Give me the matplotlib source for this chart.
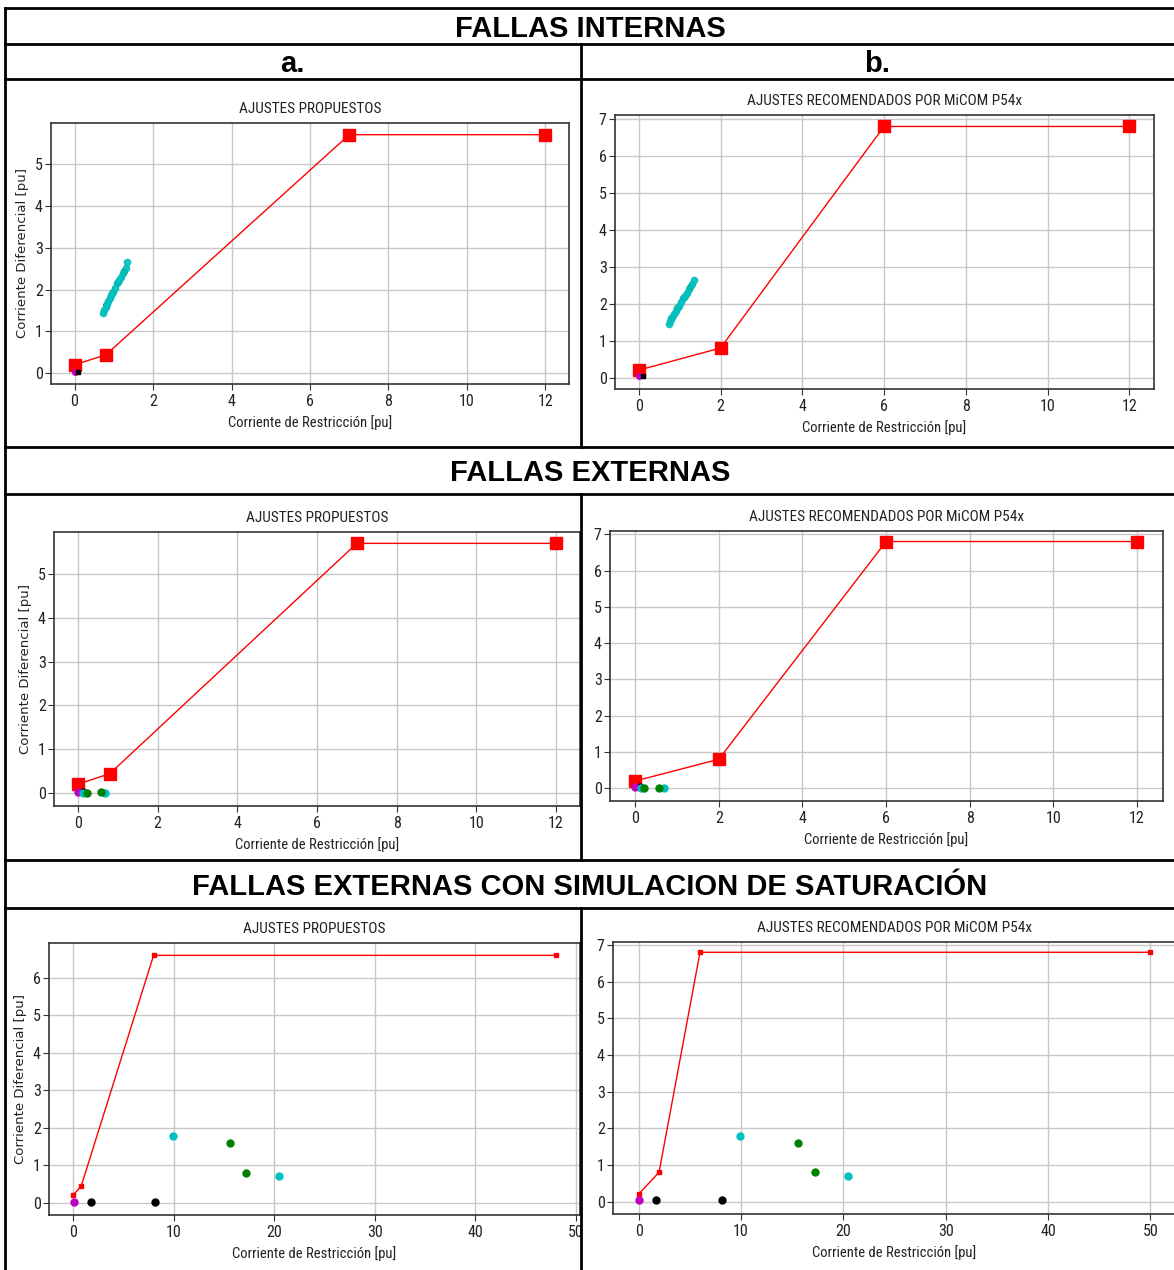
import matplotlib
matplotlib.use("Agg")
import matplotlib.pyplot as plt
from matplotlib.lines import Line2D

# ---- data ----
# relay characteristic (Irestr, Idiff)
prop_int_x = [0, 0.8, 7, 12]
prop_int_y = [0.2, 0.44, 5.71, 5.71]
micom_x = [0, 2, 6, 12]
micom_y = [0.2, 0.8, 6.8, 6.8]
prop_sat_x = [0, 0.8, 8, 48]
prop_sat_y = [0.2, 0.44, 6.6, 6.6]
micom_sat_x = [0, 2, 6, 50]
micom_sat_y = [0.2, 0.8, 6.8, 6.8]

# internal faults: operating points
int_cyan_x = [0.73, 0.76, 0.79, 0.82, 0.86, 0.90, 0.94, 0.98, 1.03, 1.08, 1.13, 1.18, 1.24, 1.30, 1.34]
int_cyan_y = [1.45, 1.52, 1.58, 1.65, 1.72, 1.80, 1.88, 1.95, 2.05, 2.15, 2.22, 2.30, 2.40, 2.52, 2.65]
int_green_x = [0.80, 0.95, 1.10, 1.25]
int_green_y = [1.62, 1.92, 2.18, 2.45]
int_mag = (0.0, 0.03)
int_black = (0.1, 0.03)

# external faults
ext_mag = (0.0, 0.03)
ext_black = (0.12, 0.03)
ext_cyan_x = [0.14, 0.68]
ext_cyan_y = [0.0, 0.0]
ext_green_x = [0.22, 0.57]
ext_green_y = [0.0, 0.01]

# external faults with CT saturation
sat_mag = (0.05, 0.03)
sat_black_x = [1.73, 8.1]
sat_black_y = [0.03, 0.03]
sat_cyan_x = [9.9, 20.45]
sat_cyan_y = [1.78, 0.70]
sat_green_x = [15.6, 17.2]
sat_green_y = [1.60, 0.80]

W, H = 1174, 1270
fig = plt.figure(figsize=(W / 100, H / 100), dpi=100)
fig.patch.set_facecolor("white")

chart_font = ["Roboto Condensed", "Roboto", "DejaVu Sans"]


def px_axes(l, t, r, b):
    return fig.add_axes([l / W, 1 - b / H, (r - l) / W, (b - t) / H])


def style(ax, title, xlim, ylim, xticks, yticks, ylabel=True):
    ax.set_xlim(*xlim)
    ax.set_ylim(*ylim)
    ax.set_xticks(xticks)
    ax.set_yticks(yticks)
    ax.grid(True, color="#c8c8c8", lw=1)
    ax.set_axisbelow(True)
    for s in ax.spines.values():
        s.set_color("#333333")
        s.set_linewidth(1.2)
    ax.tick_params(labelsize=11.5, color="#333333", length=4)
    ax.tick_params(axis="y", pad=2)
    for lab in ax.get_xticklabels() + ax.get_yticklabels():
        lab.set_family(chart_font)
        lab.set_fontstretch("condensed")
        lab.set_color("#222222")
    ax.set_title(title, fontsize=11, family=chart_font, fontstretch="condensed",
                 color="#222222", pad=7)
    ax.set_xlabel("Corriente de Restricción [pu]", fontsize=10.5, family=chart_font,
                  fontstretch="condensed", color="#222222", labelpad=4)
    if ylabel:
        ax.set_ylabel("Corriente Diferencial [pu]", fontsize=9.5, family="DejaVu Sans",
                      color="#222222")
        ax.yaxis.set_label_coords(-0.042, 0.5)


def characteristic(ax, x, y, ms):
    ax.plot(x, y, color="r", lw=1, marker="s", ms=ms, zorder=3)


# ---- row 1: internal faults ----
for (l, t, r, b), cx, cy, title, lims, yt, ylab in [
    ((51, 123, 569, 384), prop_int_x, prop_int_y, "AJUSTES PROPUESTOS",
     ((-0.6, 12.6), (-0.26, 5.99)), range(0, 6), True),
    ((615, 115, 1154, 389), micom_x, micom_y, "AJUSTES RECOMENDADOS POR MiCOM P54x",
     ((-0.58, 12.6), (-0.31, 7.11)), range(0, 8), False),
]:
    ax = px_axes(l, t, r, b)
    characteristic(ax, cx, cy, 8)
    ax.plot(int_green_x, int_green_y, "o", color="g", ms=4, zorder=4)
    ax.plot(int_cyan_x, int_cyan_y, "o", color="c", ms=4.5, zorder=4, alpha=0.9)
    ax.plot(*int_mag, "o", color="m", ms=4, zorder=5)
    ax.plot(*int_black, "s", color="k", ms=3.5, zorder=5)
    style(ax, title, lims[0], lims[1], range(0, 13, 2), yt, ylab)

# ---- row 2: external faults ----
for (l, t, r, b), cx, cy, title, lims, yt, ylab in [
    ((54, 532, 580, 806), prop_int_x, prop_int_y, "AJUSTES PROPUESTOS",
     ((-0.6, 12.6), (-0.3, 5.97)), range(0, 6), True),
    ((610, 531, 1163, 801), micom_x, micom_y, "AJUSTES RECOMENDADOS POR MiCOM P54x",
     ((-0.6, 12.62), (-0.35, 7.09)), range(0, 8), False),
]:
    ax = px_axes(l, t, r, b)
    characteristic(ax, cx, cy, 8)
    ax.plot(*ext_mag, "o", color="m", ms=5, zorder=5)
    ax.plot(*ext_black, "o", color="k", ms=5, zorder=4)
    ax.plot(ext_cyan_x, ext_cyan_y, "o", color="c", ms=5, zorder=5)
    ax.plot(ext_green_x, ext_green_y, "o", color="g", ms=5, zorder=5)
    style(ax, title, lims[0], lims[1], range(0, 13, 2), yt, ylab)

# ---- row 3: external faults with saturation ----
for (l, t, r, b), cx, cy, title, lims, yt, ylab in [
    ((49, 943, 580, 1215), prop_sat_x, prop_sat_y, "AJUSTES PROPUESTOS",
     ((-2.4, 50.4), (-0.33, 6.93)), range(0, 7), True),
    ((613, 942, 1176, 1214), micom_sat_x, micom_sat_y, "AJUSTES RECOMENDADOS POR MiCOM P54x",
     ((-2.5, 52.5), (-0.34, 7.08)), range(0, 8), False),
]:
    ax = px_axes(l, t, r, b)
    characteristic(ax, cx, cy, 2.5)
    ax.plot(*sat_mag, "o", color="m", ms=5, zorder=5)
    ax.plot(sat_black_x, sat_black_y, "o", color="k", ms=5, zorder=5)
    ax.plot(sat_cyan_x, sat_cyan_y, "o", color="c", ms=5, zorder=5)
    ax.plot(sat_green_x, sat_green_y, "o", color="g", ms=5, zorder=5)
    style(ax, title, lims[0], lims[1], range(0, 51, 10), yt, ylab)

# ---- table frame ----
def hline(y, x0=5, x1=1174):
    fig.add_artist(Line2D([x0 / W, x1 / W], [1 - y / H, 1 - y / H], color="k", lw=2))


def vline(x, y0, y1):
    fig.add_artist(Line2D([x / W, x / W], [1 - y0 / H, 1 - y1 / H], color="k", lw=2))


for y in [8, 44, 79, 447, 494, 860, 908]:
    hline(y)
vline(5, 8, 1270)
vline(581, 44, 447)
vline(581, 494, 860)
vline(581, 908, 1270)

hdr = dict(ha="center", va="center", fontsize=21, fontweight="bold",
           family=["Liberation Sans", "DejaVu Sans"], color="k")
fig.text(590 / W, 1 - 29 / H, "FALLAS INTERNAS", **hdr)
fig.text(292 / W, 1 - 64 / H, "a.", **hdr)
fig.text(877 / W, 1 - 64 / H, "b.", **hdr)
fig.text(590 / W, 1 - 473 / H, "FALLAS EXTERNAS", **hdr)
fig.text(590 / W, 1 - 887 / H, "FALLAS EXTERNAS CON SIMULACION DE SATURACIÓN", **hdr)

fig.savefig("out.png", dpi=100)
